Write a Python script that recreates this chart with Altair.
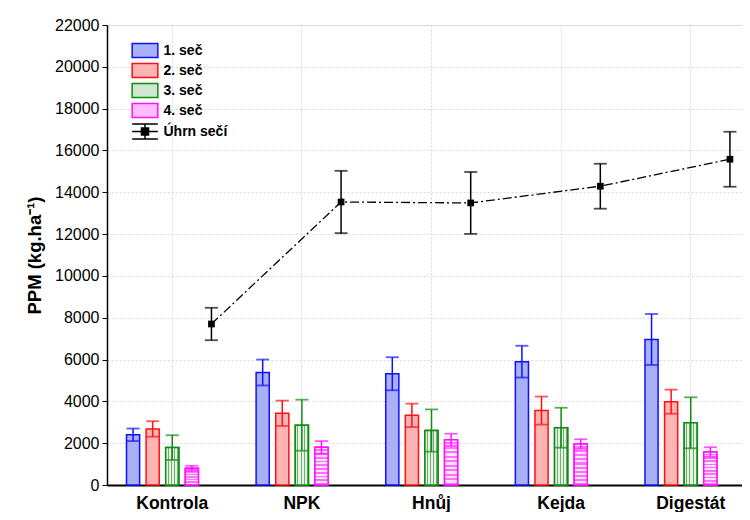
import altair as alt
import pandas as pd

categories = ["Kontrola", "NPK", "Hnůj", "Kejda", "Digestát"]
series_names = ["1. seč", "2. seč", "3. seč", "4. seč"]
total_name = "Úhrn sečí"

s1 = [2400, 5380, 5320, 5900, 6960]
e1 = [300, 620, 790, 760, 1220]
s2 = [2680, 3430, 3330, 3560, 3985]
e2 = [370, 605, 560, 670, 575]
s3 = [1790, 2860, 2605, 2740, 2975]
e3 = [590, 1220, 1010, 955, 1220]
s4 = [800, 1800, 2160, 1960, 1580]
e4 = [120, 300, 295, 230, 225]
total = [7700, 13535, 13490, 14290, 15580]
total_err = [775, 1490, 1480, 1075, 1315]

y_ticks = list(range(0, 22001, 2000))

rows = []
for name, vals, errs in zip(series_names, [s1, s2, s3, s4], [e1, e2, e3, e4]):
    for c, v, e in zip(categories, vals, errs):
        rows.append({"cat": c, "series": name, "value": v, "lo": v - e, "hi": v + e})
bars = pd.DataFrame(rows)
tot = pd.DataFrame({
    "cat": categories,
    "series": [total_name] * len(categories),
    "value": total,
    "lo": [v - e for v, e in zip(total, total_err)],
    "hi": [v + e for v, e in zip(total, total_err)],
})

all_series = series_names + [total_name]
fills = ["#aab0f6", "#ffb4b4", "#cfe6cf", "#ffbcff", "#000000"]
strokes = ["#1010ff", "#ff1010", "#108a10", "#ff10ff", "#000000"]
rect_path = "M-1.39,-0.75H1.39V0.75H-1.39Z"
tot_path = ("M-1.39,-0.8H1.39M-1.39,0.8H1.39M0,-0.8V0.8"
            "M-1.39,0H1.39M-0.38,-0.38H0.38V0.38H-0.38Z")
shapes = [rect_path] * 4 + [tot_path]

FONT = "Liberation Sans"

legend = alt.Legend(
    title=None, orient="none", legendX=28, legendY=15.5,
    labelFont=FONT, labelFontSize=14, labelFontWeight="bold", labelColor="black",
    symbolSize=342, symbolStrokeWidth=1.5, labelOffset=8.5, rowPadding=0,
    symbolOpacity=1,
)

x = alt.X(
    "cat:N", sort=categories,
    scale=alt.Scale(domain=categories, paddingInner=0.244, paddingOuter=0.11, align=0.57),
    axis=alt.Axis(title=None, ticks=False, labelFont=FONT, labelFontSize=17.5,
                  labelFontWeight="bold", labelColor="black", labelPadding=9,
                  labelAngle=0, domainColor="black", domainWidth=2,
                  grid=True, gridColor="#d9d9d9", gridDash=[2, 2], bandPosition=0.5),
)
xo = alt.XOffset("series:N", scale=alt.Scale(domain=all_series, paddingInner=0.33, paddingOuter=0.165))
y_axis = alt.Axis(
    title="PPM (kg.ha⁻¹)", values=y_ticks, format="d",
    labelFont=FONT, labelFontSize=16, labelColor="black", labelPadding=3,
    tickSize=5, tickColor="black", domainColor="black", domainWidth=1.5,
    grid=True, gridColor="#d9d9d9", gridDash=[2, 2],
    titleFont=FONT, titleFontSize=18.5, titleFontWeight="bold", titleColor="black",
    titlePadding=10,
)
y = alt.Y("value:Q", scale=alt.Scale(domain=[0, 22000], nice=False), axis=y_axis)

fill_enc = alt.Fill("series:N", scale=alt.Scale(domain=all_series, range=fills), legend=legend)
stroke_enc = alt.Stroke("series:N", scale=alt.Scale(domain=all_series, range=strokes), legend=legend)
shape_enc = alt.Shape("series:N", scale=alt.Scale(domain=all_series, range=shapes), legend=legend)
color_enc = alt.Color("series:N", scale=alt.Scale(domain=all_series, range=strokes), legend=None)

base_bars = alt.Chart(bars).mark_bar(strokeWidth=1.5).encode(
    x=x, xOffset=xo, y=y, fill=fill_enc, stroke=stroke_enc)

green_grad = alt.LinearGradient(
    gradient="linear", x1=0, x2=1, y1=0, y2=0,
    stops=[alt.GradientStop(offset=o, color=c) for o, c in [
        (0.0, "#e6f2e6"), (0.16, "#e6f2e6"), (0.16, "#6fb06f"), (0.24, "#6fb06f"),
        (0.24, "#e6f2e6"), (0.40, "#e6f2e6"), (0.40, "#6fb06f"), (0.48, "#6fb06f"),
        (0.48, "#e6f2e6"), (0.64, "#e6f2e6"), (0.64, "#6fb06f"), (0.72, "#6fb06f"),
        (0.72, "#e6f2e6"), (0.88, "#e6f2e6"), (0.88, "#6fb06f"), (0.96, "#6fb06f"),
        (0.96, "#e6f2e6"), (1.0, "#e6f2e6")]],
)
mag_stops = []
n_str = 10
for i in range(n_str):
    a = i / n_str
    b = (i + 0.5) / n_str
    c = (i + 1) / n_str
    mag_stops += [(a, "#ffe4ff"), (b, "#ffe4ff"), (b, "#ff70ff"), (c, "#ff70ff")]
mag_grad = alt.LinearGradient(
    gradient="linear", x1=0, x2=0, y1=0, y2=1,
    stops=[alt.GradientStop(offset=o, color=c) for o, c in mag_stops],
)

green_bars = alt.Chart(bars).transform_filter(alt.datum.series == "3. seč").mark_bar(
    fill=green_grad, stroke="#108a10", strokeWidth=1.5).encode(x=x, xOffset=xo, y=y)
mag_bars = alt.Chart(bars).transform_filter(alt.datum.series == "4. seč").mark_bar(
    fill=mag_grad, stroke="#ff10ff", strokeWidth=1.5).encode(x=x, xOffset=xo, y=y)

err_rule = alt.Chart(bars).mark_rule(strokeWidth=1.5).encode(
    x=x, xOffset=xo, y="lo:Q", y2="hi:Q", stroke=stroke_enc)
cap_lo = alt.Chart(bars).mark_tick(orient="horizontal", size=13, thickness=1.8).encode(
    x=x, xOffset=xo, y="lo:Q", color=color_enc)
cap_hi = alt.Chart(bars).mark_tick(orient="horizontal", size=13, thickness=1.8).encode(
    x=x, xOffset=xo, y="hi:Q", color=color_enc)

tot_line = alt.Chart(tot).mark_line(color="black", strokeWidth=1.3, strokeDash=[9, 3, 2, 3]).encode(
    x=x, xOffset=xo, y=y)
tot_rule = alt.Chart(tot).mark_rule(color="black", strokeWidth=1.5).encode(
    x=x, xOffset=xo, y="lo:Q", y2="hi:Q")
tot_cap_lo = alt.Chart(tot).mark_tick(orient="horizontal", size=13, thickness=1.8, color="black").encode(
    x=x, xOffset=xo, y="lo:Q")
tot_cap_hi = alt.Chart(tot).mark_tick(orient="horizontal", size=13, thickness=1.8, color="black").encode(
    x=x, xOffset=xo, y="hi:Q")
tot_pts = alt.Chart(tot).mark_square(size=45, color="black", opacity=1).encode(
    x=x, xOffset=xo, y=y)

legend_layer = alt.Chart(pd.concat([bars, tot], ignore_index=True)).transform_filter("false").mark_point(
    filled=True, opacity=1).encode(x=x, xOffset=xo, y=y, fill=fill_enc, stroke=stroke_enc, shape=shape_enc)

chart = alt.layer(
    base_bars, green_bars, mag_bars, err_rule, cap_lo, cap_hi,
    tot_line, tot_rule, tot_cap_lo, tot_cap_hi, tot_pts, legend_layer,
).properties(
    width=645, height=460,
    autosize=alt.AutoSizeParams(type="none"),
    padding={"left": 99, "top": 17, "right": -10, "bottom": 27},
).configure_view(
    stroke="#222", strokeWidth=1.5,
).configure(background="white")

chart.save("out.html", embed_options={"renderer": "svg", "actions": False})
